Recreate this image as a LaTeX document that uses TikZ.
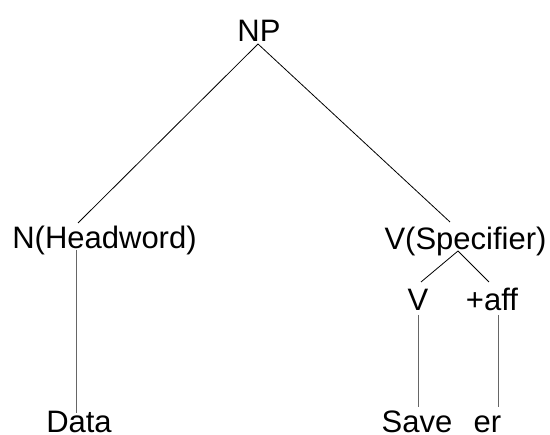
\documentclass[tikz,border=0pt]{standalone}
\usepackage{fontspec}
\setmainfont{Liberation Sans}
\begin{document}
\begin{tikzpicture}[x=1pt,y=1pt,
  lbl/.style={anchor=base,inner sep=0pt,font=\fontsize{31}{37}\selectfont},
  edge/.style={line width=0.8pt,draw=black},
  vedge/.style={line width=1pt,draw=black!60}]
\useasboundingbox (0,0) rectangle (550,435);
% nodes
\node[lbl] (NP) at (259,393) {NP};
\node[lbl] (N) at (104.5,186) {N(Headword)};
\node[lbl] (VS) at (465.5,185) {V(Specifier)};
\node[lbl] (V) at (418,124) {V};
\node[lbl] (AFF) at (492,124) {+aff};
\node[lbl] (DATA) at (79,2) {Data};
\node[lbl] (SAVE) at (417,2) {Save};
\node[lbl] (ER) at (487.5,2) {er};
% connector end points
\coordinate (npb) at (258,391);
\coordinate (nt) at (78,212);
\coordinate (vst) at (450,213);
\coordinate (vsb) at (458,184);
\coordinate (vt) at (421,153);
\coordinate (afft) at (489,153);
\coordinate (nb) at (76,185);
\coordinate (datat) at (76,22);
\coordinate (vb) at (418,120);
\coordinate (savet) at (418,28);
\coordinate (affb) at (498,120);
\coordinate (ert) at (498,28);
% connectors
\draw[edge] (npb) -- (nt);
\draw[edge] (npb) -- (vst);
\draw[edge] (vsb) -- (vt);
\draw[edge] (vsb) -- (afft);
\draw[vedge] (nb) -- (datat);
\draw[vedge] (vb) -- (savet);
\draw[vedge] (affb) -- (ert);
\end{tikzpicture}
\end{document}
